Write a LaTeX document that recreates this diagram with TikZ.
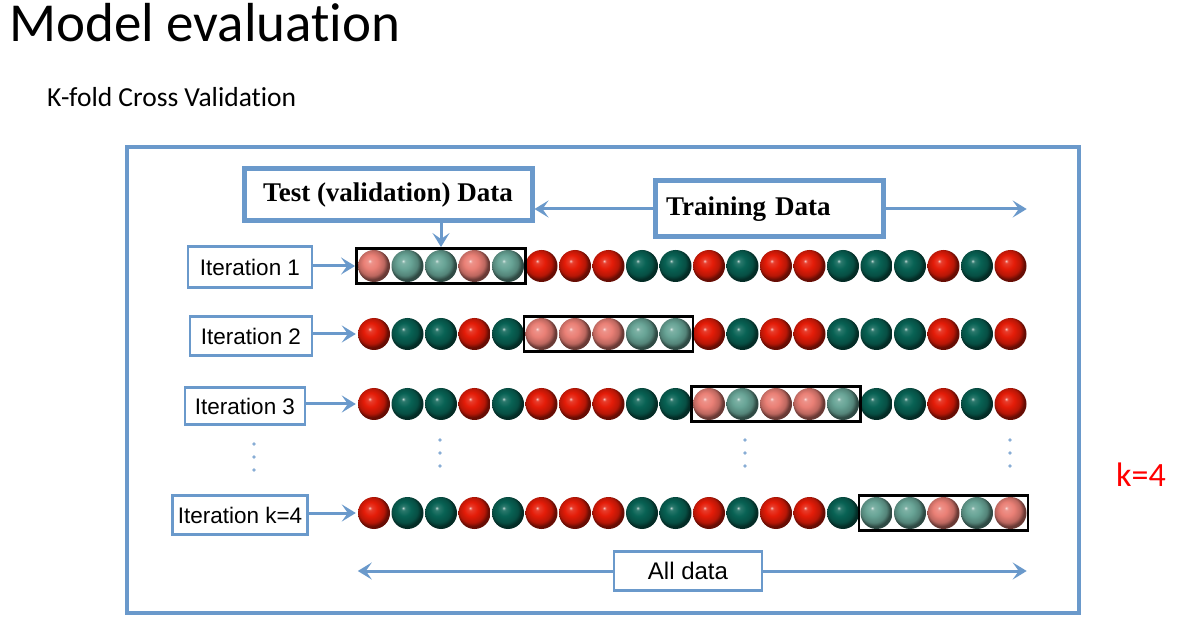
\documentclass[tikz,border=0pt]{standalone}
\usepackage{fontspec}
\setmainfont{Carlito}[Ligatures=NoCommon]
\newfontfamily\serifbf{Liberation Serif}
\newfontfamily\gothic{Liberation Sans}
\usetikzlibrary{arrows.meta,fit}
\definecolor{FB}{RGB}{106,153,203}
\definecolor{ballr}{RGB}{228,28,8}
\definecolor{ballg}{RGB}{8,98,84}
\definecolor{ballR}{RGB}{234,128,118}
\definecolor{ballG}{RGB}{104,164,150}
\colorlet{sphc}{red}
\pgfdeclareradialshading[sphc]{sphere}{\pgfpoint{-7bp}{8bp}}{%
  color(0bp)=(sphc!25!white); color(3bp)=(sphc!85!white); color(11bp)=(sphc);
  color(20bp)=(sphc!80!black); color(25bp)=(sphc!45!black); color(50bp)=(sphc!45!black)}
\tikzset{
  sph/.style={circle,inner sep=0pt,minimum size=32pt,shade,
              /utils/exec={\colorlet{sphc}{ball#1}},shading=sphere},
  itbox/.style={draw=FB,line width=2.5pt,fill=white,inner sep=0pt,
                font=\gothic\fontsize{22.5}{26}\selectfont},
  testbox/.style={draw=black,line width=2.5pt,inner sep=1.5pt},
  arr/.style={-{Stealth[length=14pt,width=17pt,inset=6pt]},draw=FB,line width=3pt}
}

\begin{document}
\begin{tikzpicture}[x=1pt,y=-1pt]
  \path[fill=white,use as bounding box] (0,0) rectangle (1187,636);

  \node[anchor=base west,inner sep=0pt,font=\fontsize{55}{64}\selectfont] (title) at (9,42) {Model evaluation};
  \node[anchor=base west,inner sep=0pt,font=\fontsize{27.5}{32}\selectfont] (sub) at (47,107) {K-fold Cross Validation};
  \node[anchor=base west,inner sep=0pt,text=red,font=\fontsize{34}{40}\selectfont] (k) at (1116,486) {k=4};

  \draw[FB,line width=4pt] (127,147) rectangle (1079,613);

  % balls
  \foreach \r/\yy/\cols in {
      1/266/{R,G,G,R,G,r,r,r,g,g,r,g,r,r,g,g,g,r,g,r},
      2/334/{r,g,g,r,g,R,R,R,G,G,r,g,r,r,g,g,g,r,g,r},
      3/404/{r,g,g,r,g,r,r,r,g,g,R,G,R,R,G,g,g,r,g,r},
      4/513/{r,g,g,r,g,r,r,r,g,g,r,g,r,r,g,G,G,R,G,R}}
    \foreach \c [count=\i] in \cols
      \node[sph=\c] (b\r-\i) at ({374+(\i-1)*33.5},\yy) {};

  \node[testbox,fit=(b1-1)(b1-5)] (tb1) {};
  \node[testbox,fit=(b2-6)(b2-10)] (tb2) {};
  \node[testbox,fit=(b3-11)(b3-15)] (tb3) {};
  \node[testbox,fit=(b4-16)(b4-20)] (tb4) {};

  \node[itbox,minimum width=124pt,minimum height=41pt] (it1) at (250,267) {Iteration 1};
  \node[itbox,minimum width=122pt,minimum height=39pt] (it2) at (251,336) {Iteration 2};
  \node[itbox,minimum width=120pt,minimum height=37pt] (it3) at (245,406) {Iteration 3};
  \node[itbox,minimum width=135pt,minimum height=39pt] (it4) at (240,515) {Iteration k=4};

  \node[draw=FB,line width=5pt,fill=white,minimum width=288pt,minimum height=52pt,
        font=\serifbf\bfseries\fontsize{27}{31}\selectfont] (test) at (388,195) {Test (validation) Data};
  \node[draw=FB,line width=5pt,fill=white,minimum width=228pt,minimum height=56pt,
        text width=206pt,font=\serifbf\bfseries\fontsize{27}{31}\selectfont] (train) at (769,209) {Training Data};
  \node[draw=FB,line width=2.5pt,fill=white,minimum width=148pt,minimum height=39pt,
        font=\gothic\fontsize{24}{28}\selectfont] (all) at (688,571) {All data};

  \coordinate (trainend) at (b1-20.east |- train.east);
  \coordinate (allL) at (b4-1.west |- all.west);
  \coordinate (allR) at (b4-20.east |- all.east);

  \begin{scope}[every path/.append style={arr}]
    \draw (train.west) -- (test.east |- train.west);
    \draw (train.east) -- (trainend);
    \draw (b1-3 |- test.south) -- (b1-3 |- tb1.north);
    \draw (it1.east |- b1-1) -- (tb1.west |- b1-1);
    \draw (it2.east |- b2-1) -- ([xshift=-2pt]b2-1.west);
    \draw (it3.east |- b3-1) -- ([xshift=-2pt]b3-1.west);
    \draw (it4.east |- b4-1) -- ([xshift=-2pt]b4-1.west);
    \draw (all.west) -- (allL);
    \draw (all.east) -- (allR);
  \end{scope}

  % dots
  \foreach \x/\yo in {254/444,440/440,745/440,1010/440}
    \foreach \d in {0,13,26}
      \fill[FB!80] (\x,\yo+\d) circle (1.8pt);
\end{tikzpicture}
\end{document}
